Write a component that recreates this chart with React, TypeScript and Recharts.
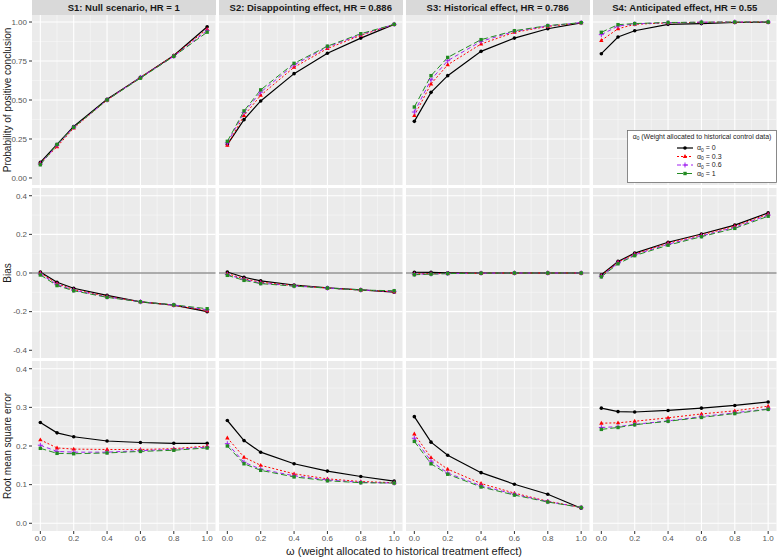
import { CartesianGrid, Line, LineChart, ReferenceLine, XAxis, YAxis } from 'recharts'

// omega values (x) shared by every panel
const OMEGA = [0, 0.1, 0.2, 0.4, 0.6, 0.8, 1.0]

const SCENARIOS = [
  'S1: Null scenario, HR = 1',
  'S2: Disappointing effect, HR = 0.886',
  'S3: Historical effect, HR = 0.786',
  'S4: Anticipated effect, HR = 0.55',
]

const ALPHA_LEVELS = ['0', '0.3', '0.6', '1']

// each array: rows are alpha0 = 0, 0.3, 0.6, 1
const S1_PROB = [
  [0.10, 0.215, 0.33, 0.505, 0.645, 0.785, 0.97],
  [0.095, 0.20, 0.32, 0.50, 0.645, 0.785, 0.955],
  [0.09, 0.21, 0.325, 0.50, 0.645, 0.78, 0.945],
  [0.085, 0.215, 0.325, 0.50, 0.64, 0.78, 0.935],
]
const S2_PROB = [
  [0.214, 0.374, 0.494, 0.669, 0.80, 0.897, 0.985],
  [0.21, 0.40, 0.53, 0.71, 0.83, 0.915, 0.985],
  [0.225, 0.42, 0.55, 0.725, 0.84, 0.92, 0.985],
  [0.235, 0.43, 0.565, 0.735, 0.845, 0.925, 0.985],
]
const S3_PROB = [
  [0.363, 0.549, 0.656, 0.812, 0.897, 0.957, 0.995],
  [0.40, 0.603, 0.726, 0.859, 0.934, 0.972, 0.995],
  [0.423, 0.63, 0.752, 0.876, 0.94, 0.975, 0.996],
  [0.455, 0.656, 0.773, 0.887, 0.944, 0.977, 0.996],
]
const S4_PROB = [
  [0.797, 0.904, 0.944, 0.985, 0.99, 0.997, 0.999],
  [0.882, 0.957, 0.985, 0.995, 0.998, 0.999, 1.0],
  [0.919, 0.974, 0.988, 0.996, 0.999, 1.0, 1.0],
  [0.934, 0.983, 0.99, 0.997, 0.999, 1.0, 1.0],
]

const S1_BIAS = [
  [0.005, -0.048, -0.079, -0.116, -0.149, -0.166, -0.20],
  [0.0, -0.055, -0.086, -0.121, -0.149, -0.167, -0.195],
  [-0.005, -0.06, -0.089, -0.124, -0.149, -0.166, -0.19],
  [-0.01, -0.065, -0.092, -0.126, -0.149, -0.165, -0.185],
]
const S2_BIAS = [
  [0.005, -0.022, -0.041, -0.062, -0.077, -0.087, -0.099],
  [-0.003, -0.03, -0.048, -0.065, -0.078, -0.088, -0.097],
  [-0.008, -0.034, -0.052, -0.067, -0.078, -0.088, -0.095],
  [-0.012, -0.038, -0.055, -0.068, -0.078, -0.088, -0.092],
]
const S3_BIAS = [
  [0.004, 0.003, 0.001, 0.0, 0.0, 0.0, 0.0],
  [-0.004, -0.003, -0.002, -0.001, 0.0, 0.0, 0.0],
  [-0.007, -0.005, -0.003, -0.001, 0.0, 0.0, 0.0],
  [-0.009, -0.006, -0.003, -0.001, 0.0, 0.0, 0.0],
]
const S4_BIAS = [
  [-0.009, 0.06, 0.103, 0.159, 0.202, 0.248, 0.311],
  [-0.013, 0.056, 0.098, 0.154, 0.197, 0.242, 0.305],
  [-0.017, 0.052, 0.094, 0.149, 0.192, 0.236, 0.30],
  [-0.02, 0.048, 0.09, 0.144, 0.188, 0.231, 0.294],
]

const S1_RMSE = [
  [0.261, 0.234, 0.224, 0.213, 0.209, 0.207, 0.207],
  [0.216, 0.195, 0.192, 0.191, 0.191, 0.193, 0.20],
  [0.202, 0.186, 0.184, 0.184, 0.188, 0.191, 0.197],
  [0.194, 0.181, 0.18, 0.182, 0.186, 0.189, 0.195],
]
const S2_RMSE = [
  [0.266, 0.214, 0.184, 0.154, 0.135, 0.121, 0.109],
  [0.221, 0.171, 0.15, 0.128, 0.115, 0.108, 0.105],
  [0.206, 0.158, 0.14, 0.123, 0.112, 0.106, 0.104],
  [0.20, 0.154, 0.137, 0.12, 0.11, 0.105, 0.104],
]
const S3_RMSE = [
  [0.276, 0.21, 0.176, 0.131, 0.101, 0.075, 0.039],
  [0.231, 0.17, 0.14, 0.103, 0.078, 0.057, 0.041],
  [0.22, 0.161, 0.13, 0.097, 0.075, 0.056, 0.041],
  [0.212, 0.154, 0.127, 0.094, 0.073, 0.055, 0.041],
]
const S4_RMSE = [
  [0.298, 0.289, 0.288, 0.292, 0.298, 0.305, 0.314],
  [0.259, 0.26, 0.264, 0.273, 0.283, 0.291, 0.303],
  [0.248, 0.25, 0.256, 0.265, 0.276, 0.286, 0.296],
  [0.243, 0.248, 0.255, 0.264, 0.274, 0.284, 0.295],
]

const X_MAJOR = [0, 0.2, 0.4, 0.6, 0.8, 1.0]
const X_MINOR = [0.1, 0.3, 0.5, 0.7, 0.9]

const ROWS = [
  {
    title: 'Probability of positive conclusion',
    domain: [-0.045, 1.045],
    major: [0, 0.25, 0.5, 0.75, 1],
    minor: [0.125, 0.375, 0.625, 0.875],
    digits: 2,
    zeroLine: false,
    data: [S1_PROB, S2_PROB, S3_PROB, S4_PROB],
  },
  {
    title: 'Bias',
    domain: [-0.44, 0.44],
    major: [-0.4, -0.2, 0, 0.2, 0.4],
    minor: [-0.3, -0.1, 0.1, 0.3],
    digits: 1,
    zeroLine: true,
    data: [S1_BIAS, S2_BIAS, S3_BIAS, S4_BIAS],
  },
  {
    title: 'Root mean square error',
    domain: [-0.02, 0.42],
    major: [0, 0.1, 0.2, 0.3, 0.4],
    minor: [0.05, 0.15, 0.25, 0.35],
    digits: 1,
    zeroLine: false,
    data: [S1_RMSE, S2_RMSE, S3_RMSE, S4_RMSE],
  },
]

const SERIES = [
  { key: 'a0', color: '#000000', dash: undefined, width: 1.2, shape: 'circle' },
  { key: 'a03', color: '#FF0000', dash: '2 2', width: 1, shape: 'triangle' },
  { key: 'a06', color: '#A020F0', dash: '4 3', width: 1, shape: 'plus' },
  { key: 'a1', color: '#228B22', dash: '6 3', width: 1, shape: 'square' },
]

const FONT = '"Liberation Sans", Arial, sans-serif'
const PANEL_W = 183.5
const PANEL_H = 170
const COL_LEFT = [32, 219, 406, 593]
const ROW_TOP = [15, 188, 361]
const Y_AXIS_W = 32
const X_AXIS_H = 14

function drawShape(shape: string, color: string, cx: number, cy: number, key?: any) {
  if (shape === 'circle') return <circle key={key} cx={cx} cy={cy} r={1.8} fill={color} />
  if (shape === 'triangle')
    return <polygon key={key} points={`${cx},${cy - 2.4} ${cx - 2.2},${cy + 1.5} ${cx + 2.2},${cy + 1.5}`} fill={color} />
  if (shape === 'plus')
    return (
      <g key={key} stroke={color} strokeWidth={1}>
        <line x1={cx - 2.5} y1={cy} x2={cx + 2.5} y2={cy} />
        <line x1={cx} y1={cy - 2.5} x2={cx} y2={cy + 2.5} />
      </g>
    )
  return <rect key={key} x={cx - 1.7} y={cy - 1.7} width={3.4} height={3.4} fill={color} />
}

function makeDot(shape: string, color: string) {
  return (props: any) => {
    const { cx, cy, index } = props
    if (cx == null || cy == null) return <g key={index} />
    return drawShape(shape, color, cx, cy, index)
  }
}

function Panel({ row, col }: { row: number; col: number }) {
  const cfg = ROWS[row]
  const values = cfg.data[col]
  const table = OMEGA.map((w, i) => ({
    w,
    a0: values[0][i],
    a03: values[1][i],
    a06: values[2][i],
    a1: values[3][i],
  }))
  const leftCol = col === 0
  const bottomRow = row === ROWS.length - 1
  const width = PANEL_W + (leftCol ? Y_AXIS_W : 0)
  const height = PANEL_H + (bottomRow ? X_AXIS_H : 0)
  const tickStyle = { fontSize: 8, fill: '#555555', fontFamily: FONT }

  return (
    <div style={{ position: 'absolute', left: COL_LEFT[col] - (leftCol ? Y_AXIS_W : 0), top: ROW_TOP[row] }}>
      <LineChart width={width} height={height} data={table} margin={{ top: 0, right: 0, bottom: 0, left: 0 }}>
        <CartesianGrid fill="#EBEBEB" stroke="#F8F8F8" strokeWidth={0.5} horizontalValues={cfg.minor} verticalValues={X_MINOR} />
        <CartesianGrid stroke="#FFFFFF" strokeWidth={1.1} horizontalValues={cfg.major} verticalValues={X_MAJOR} />
        <XAxis
          type="number"
          dataKey="w"
          domain={[-0.05, 1.05]}
          ticks={X_MAJOR}
          hide={!bottomRow}
          height={X_AXIS_H}
          tick={tickStyle}
          tickSize={3}
          tickMargin={1}
          tickLine={{ stroke: '#333333' }}
          axisLine={false}
          tickFormatter={(v: number) => v.toFixed(1)}
          allowDataOverflow
        />
        <YAxis
          type="number"
          domain={cfg.domain}
          ticks={cfg.major}
          hide={!leftCol}
          width={Y_AXIS_W}
          tick={tickStyle}
          tickSize={3}
          tickMargin={2}
          tickLine={{ stroke: '#333333' }}
          axisLine={false}
          tickFormatter={(v: number) => v.toFixed(cfg.digits)}
          allowDataOverflow
        />
        {cfg.zeroLine && <ReferenceLine y={0} stroke="#3A3A3A" strokeWidth={0.8} />}
        {SERIES.map((s) => (
          <Line
            key={s.key}
            dataKey={s.key}
            stroke={s.color}
            strokeWidth={s.width}
            strokeDasharray={s.dash}
            dot={makeDot(s.shape, s.color)}
            activeDot={false}
            isAnimationActive={false}
          />
        ))}
      </LineChart>
    </div>
  )
}

function Legend() {
  return (
    <svg style={{ position: 'absolute', left: 627, top: 130 }} width={150} height={53}>
      <rect x={0.5} y={0.5} width={149} height={52} fill="#FFFFFF" stroke="#6E6E6E" strokeWidth={0.8} />
      <text x={75} y={8.5} textAnchor="middle" fontSize={6.9} fill="#1A1A1A" fontFamily={FONT}>
        α<tspan fontSize={4.8} dy={1.5}>0</tspan>
        <tspan dy={-1.5}> (Weight allocated to historical control data)</tspan>
      </text>
      {SERIES.map((s, i) => {
        const cy = 18 + i * 8.5
        return (
          <g key={s.key}>
            <line x1={50} y1={cy} x2={66} y2={cy} stroke={s.color} strokeWidth={s.width} strokeDasharray={s.dash} />
            {drawShape(s.shape, s.color, 58, cy)}
            <text x={70} y={cy + 2.4} fontSize={7} fill="#1A1A1A" fontFamily={FONT}>
              α<tspan fontSize={5} dy={1.5}>0</tspan>
              <tspan dy={-1.5}> = {ALPHA_LEVELS[i]}</tspan>
            </text>
          </g>
        )
      })}
    </svg>
  )
}

export default function App() {
  return (
    <div style={{ position: 'absolute', left: 0, top: 0, width: 778, height: 559, background: '#FFFFFF', fontFamily: FONT }}>
      {SCENARIOS.map((name, c) => (
        <div
          key={name}
          style={{
            position: 'absolute',
            left: COL_LEFT[c],
            top: 0,
            width: PANEL_W,
            height: 15,
            background: '#D9D9D9',
            color: '#1A1A1A',
            fontSize: 9.5,
            fontWeight: 'bold',
            lineHeight: '15px',
            textAlign: 'center',
            whiteSpace: 'nowrap',
          }}
        >
          {name}
        </div>
      ))}
      {ROWS.map((r, ri) => (
        <div
          key={r.title}
          style={{
            position: 'absolute',
            left: 8 - 100,
            top: ROW_TOP[ri] + PANEL_H / 2 - 7,
            width: 200,
            height: 14,
            lineHeight: '14px',
            textAlign: 'center',
            fontSize: 10,
            color: '#1A1A1A',
            transform: 'rotate(-90deg)',
            whiteSpace: 'nowrap',
          }}
        >
          {r.title}
        </div>
      ))}
      {ROWS.map((_, ri) => COL_LEFT.map((_, ci) => <Panel key={`${ri}-${ci}`} row={ri} col={ci} />))}
      <Legend />
      <div
        style={{
          position: 'absolute',
          left: 32,
          top: 544,
          width: 744,
          textAlign: 'center',
          fontSize: 11,
          lineHeight: '14px',
          color: '#1A1A1A',
          whiteSpace: 'nowrap',
        }}
      >
        ω (weight allocated to historical treatment effect)
      </div>
    </div>
  )
}
